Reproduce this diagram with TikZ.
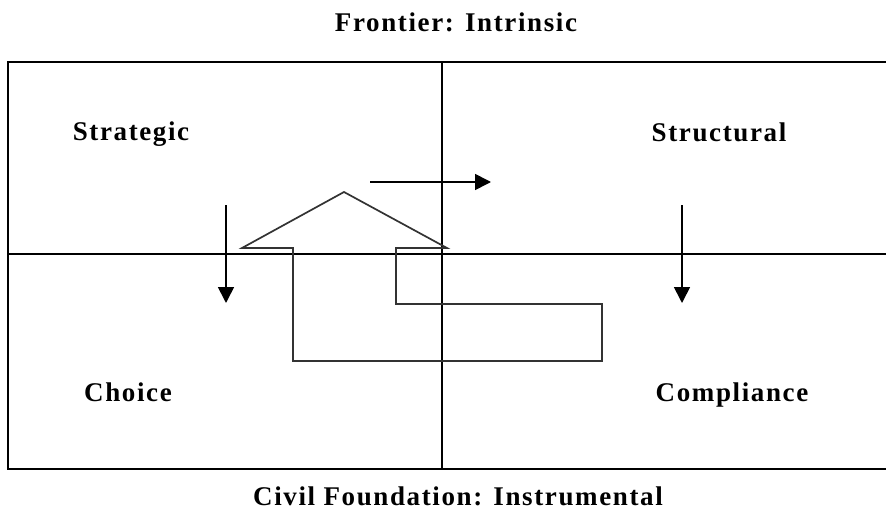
\documentclass[tikz,border=0pt]{standalone}
\usepackage{fontspec}
\setmainfont{Liberation Serif}
\usetikzlibrary{arrows.meta}
\begin{document}
\begin{tikzpicture}[x=1pt,y=-1pt,
  lab/.style={font=\fontsize{27}{30}\selectfont\bfseries\addfontfeature{LetterSpace=6}, inner sep=0pt, anchor=base},
  grid/.style={line width=1.7pt},
  arr/.style={line width=1.7pt, -{Triangle[length=16pt,width=16pt]}},
  bigarrow/.style={line width=1.7pt, draw=black!80, line join=miter}]
\useasboundingbox (0,0) rectangle (886,516);
\clip (0,0) rectangle (886,516);
% frame and quadrants
\draw[line width=2.3pt] (8,62) rectangle (892,469);
\coordinate (mL) at (8,254);
\coordinate (mR) at (892,254);
\coordinate (vT) at (442,62);
\coordinate (vB) at (442,469);
\draw[grid] (mL) -- (mR);
\draw[grid] (vT) -- (vB);
% labels
\node[lab] (title) at (456,32) {Frontier: Intrinsic};
\node[lab] (foot) at (458,505) {Civil Foundation: Instrumental};
\node[lab] (strat) at (131,141) {Strategic};
\node[lab] (struct) at (719,142) {Structural};
\node[lab] (choice) at (128,401) {Choice};
\node[lab] (compl) at (732,401) {Compliance};
% arrows
\coordinate (a1s) at (226,205); \coordinate (a1e) at (226,303);
\coordinate (a2s) at (682,205); \coordinate (a2e) at (682,303);
\coordinate (a3s) at (370,182); \coordinate (a3e) at (491,182);
\draw[arr] (a1s) -- (a1e);
\draw[arr] (a2s) -- (a2e);
\draw[arr] (a3s) -- (a3e);
% big bent arrow
\draw[bigarrow] (344,192) -- (447,248) -- (396,248) -- (396,304) -- (602,304)
  -- (602,361) -- (293,361) -- (293,248) -- (242,248) -- cycle;
\end{tikzpicture}
\end{document}
